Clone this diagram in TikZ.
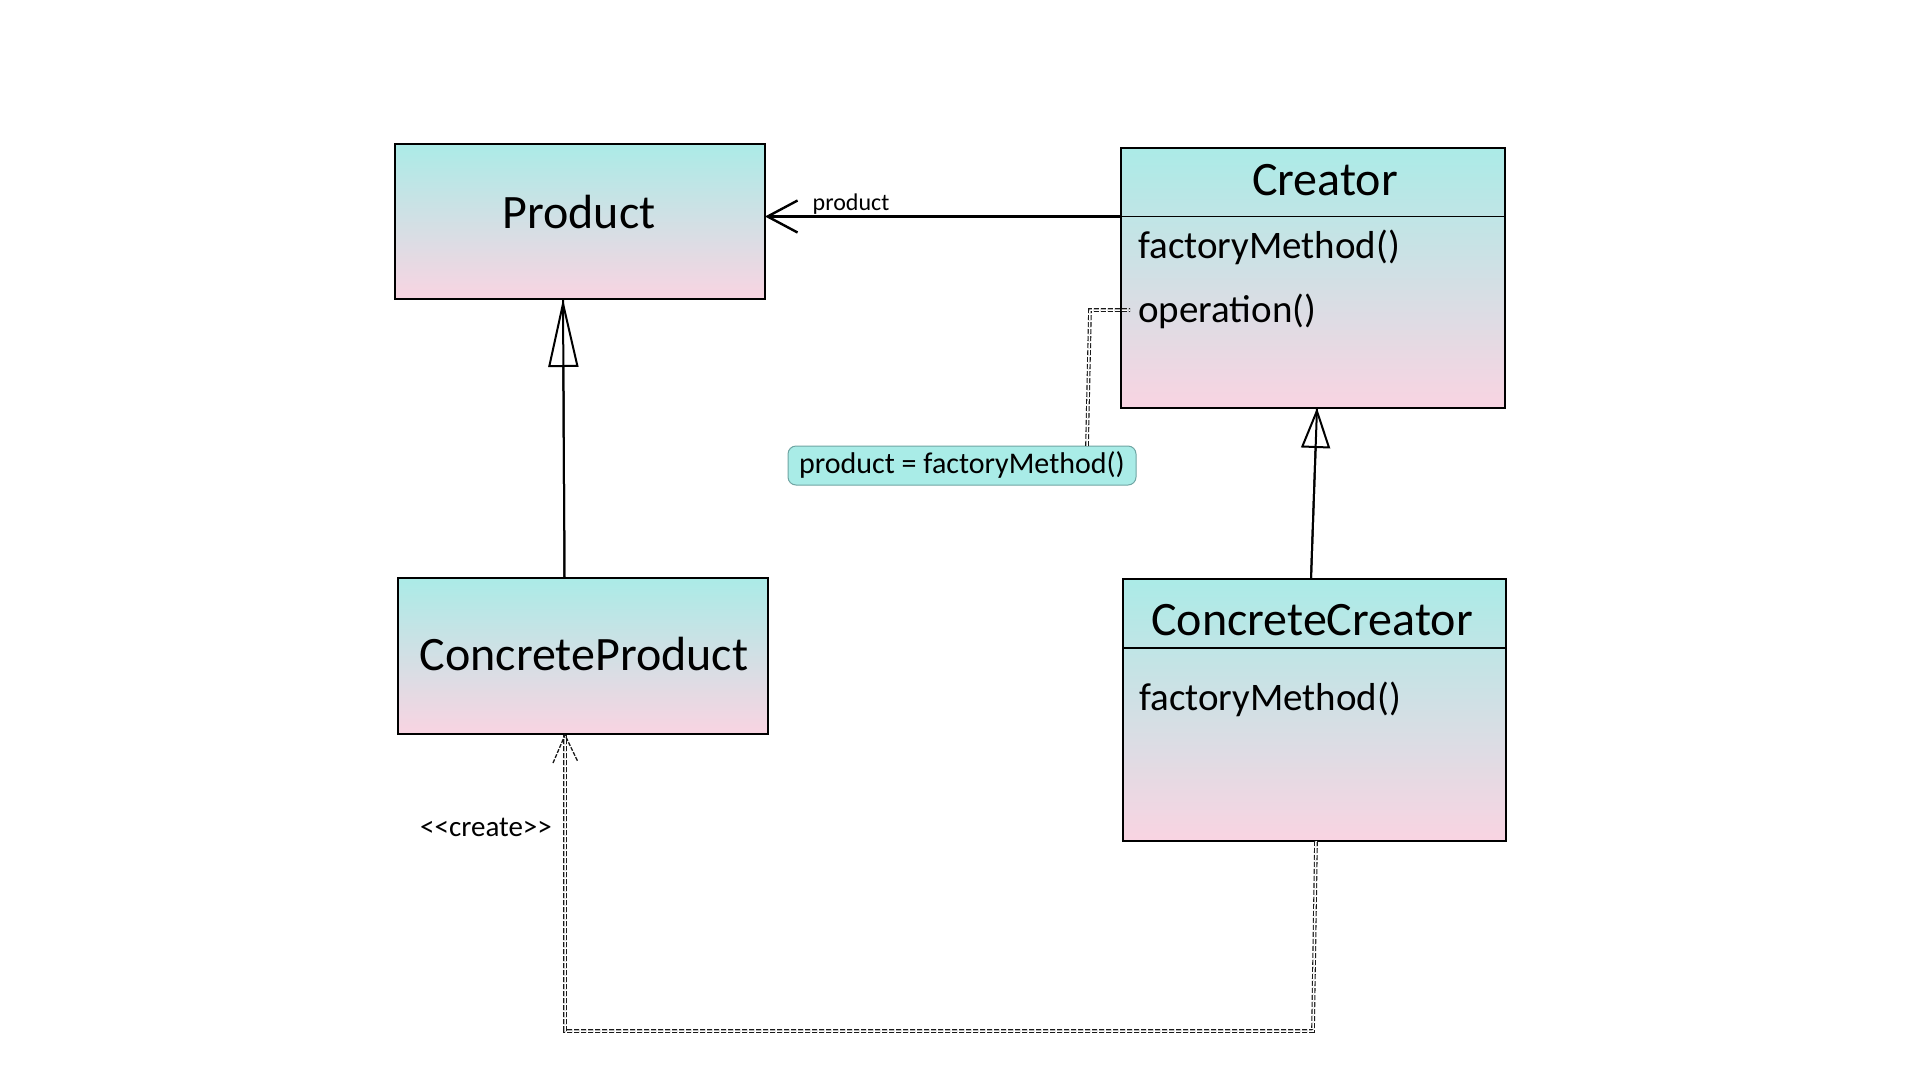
\documentclass[tikz,border=0pt]{standalone}
\usepackage{fontspec}
\setmainfont{Carlito}
\usetikzlibrary{arrows.meta,calc}
\definecolor{topc}{HTML}{ABEBE7}
\definecolor{botc}{HTML}{F9D4E2}
\definecolor{notec}{HTML}{A9ECE7}
\definecolor{noteb}{HTML}{6FA5A3}
\definecolor{dashc}{HTML}{1A1A1A}
\tikzset{
  classbox/.style={draw=black, line width=1.3pt, top color=topc, bottom color=botc,
    inner sep=0pt, outer sep=0pt, anchor=north west},
  bigname/.style={inner sep=0pt, anchor=base, font=\fontsize{48}{56}\selectfont},
  method/.style={inner sep=0pt, anchor=base west, font=\fontsize{39}{46}\selectfont},
  smalllbl/.style={inner sep=0pt, anchor=base, font=\fontsize{24}{28}\selectfont},
  divline/.style={draw=black, line width=1.2pt},
  assoc/.style={draw=black, line width=2.4pt, -{Straight Barb[length=30pt,width=32pt,line width=2.4pt]}},
  genline/.style={draw=black, line width=2pt},
  depline/.style={draw=dashc, line width=1.1pt, double=white, double distance=1.5pt, dash pattern=on 5pt off 2pt},
  notebox/.style={draw=noteb, line width=1pt, fill=notec, rounded corners=8pt, inner sep=0pt, outer sep=0pt, anchor=north west},
}
\begin{document}
\begin{tikzpicture}[x=1pt,y=-1pt]
\useasboundingbox[fill=white] (0,0) rectangle (1920,1080);

% class boxes
\node[classbox, minimum width=370pt, minimum height=155pt] (product) at (395,144) {};
\node[classbox, minimum width=384pt, minimum height=260pt] (creator) at (1121,148) {};
\node[classbox, minimum width=370pt, minimum height=156pt] (cproduct) at (398,578) {};
\node[classbox, minimum width=383pt, minimum height=262pt] (ccreator) at (1123,579) {};
\node[notebox, minimum width=348pt, minimum height=39pt] (note) at (788,446) {};

% dividers
\coordinate (crdivL) at ($(creator.north west)+(0,68.5)$);
\coordinate (crdivR) at ($(creator.north east)+(0,68.5)$);
\draw[divline] (crdivL) -- (crdivR);
\coordinate (ccdivL) at ($(ccreator.north west)+(0,69)$);
\coordinate (ccdivR) at ($(ccreator.north east)+(0,69)$);
\draw[divline] (ccdivL) -- (ccdivR);

% texts
\node[bigname] (tproduct) at (579,228) {Product};
\node[bigname] (tcreator) at (1325,195) {Creator};
\node[method] (tfm1) at (1138,258) {factoryMethod()};
\node[method] (top) at (1138,322) {operation()};
\node[bigname] (tcproduct) at (584,670) {ConcreteProduct};
\node[bigname] (tccreator) at (1312,635) {ConcreteCreator};
\node[method] (tfm2) at (1139,710) {factoryMethod()};
\node[inner sep=0pt, anchor=base, font=\fontsize{30}{36}\selectfont] (tnote) at (962,473) {product = factoryMethod()};
\node[smalllbl] (tprodlbl) at (851,210) {product};
\node[inner sep=0pt, anchor=base, font=\fontsize{29}{34}\selectfont] (tcreate) at (486,836) {<{}<create>{}>};

% association Creator -> Product
\draw[assoc] (crdivL) -- (crdivL -| product.east);

% generalization ConcreteProduct -> Product
\coordinate (cpT) at ($(cproduct.north west)+(166.5,0)$);
\coordinate (pB) at ($(product.south west)+(168,0)$);
\draw[genline] (cpT) -- (pB);
\draw[genline, -{Triangle[open,length=68pt,width=30pt,line width=2pt]}] ($(pB)!0.999!(cpT)$) -- (pB);

% generalization ConcreteCreator -> Creator
\coordinate (ccT) at ($(ccreator.north west)+(188,0)$);
\coordinate (crB) at ($(creator.south west)+(196,0)$);
\draw[genline] (ccT) -- (crB);
\draw[genline, -{Triangle[open,length=40pt,width=29pt,line width=2pt]}] ($(crB)!0.999!(ccT)$) -- (crB);

% dependency <<create>>
\coordinate (ccB) at ($(ccreator.south west)+(193,0)$);
\coordinate (cpB) at ($(cproduct.south west)+(167,1)$);
\coordinate (depR) at ($(ccB)+(-3,190)$);
\coordinate (depL) at (cpB |- depR);
\draw[depline] (ccB) -- (depR) -- (depL) -- (cpB);
\draw[draw=dashc, line width=1.3pt, dash pattern=on 4pt off 1.5pt] ($(cpB)+(-12,28)$) -- (cpB) -- ($(cpB)+(13,27)$);

% note connector
\coordinate (nT) at ($(note.north west)+(299,0)$);
\coordinate (nC) at ($(nT)+(3,-136)$);
\coordinate (nE) at (1130,310);
\draw[depline] (nT) -- (nC) -- (nE);
\end{tikzpicture}
\end{document}
